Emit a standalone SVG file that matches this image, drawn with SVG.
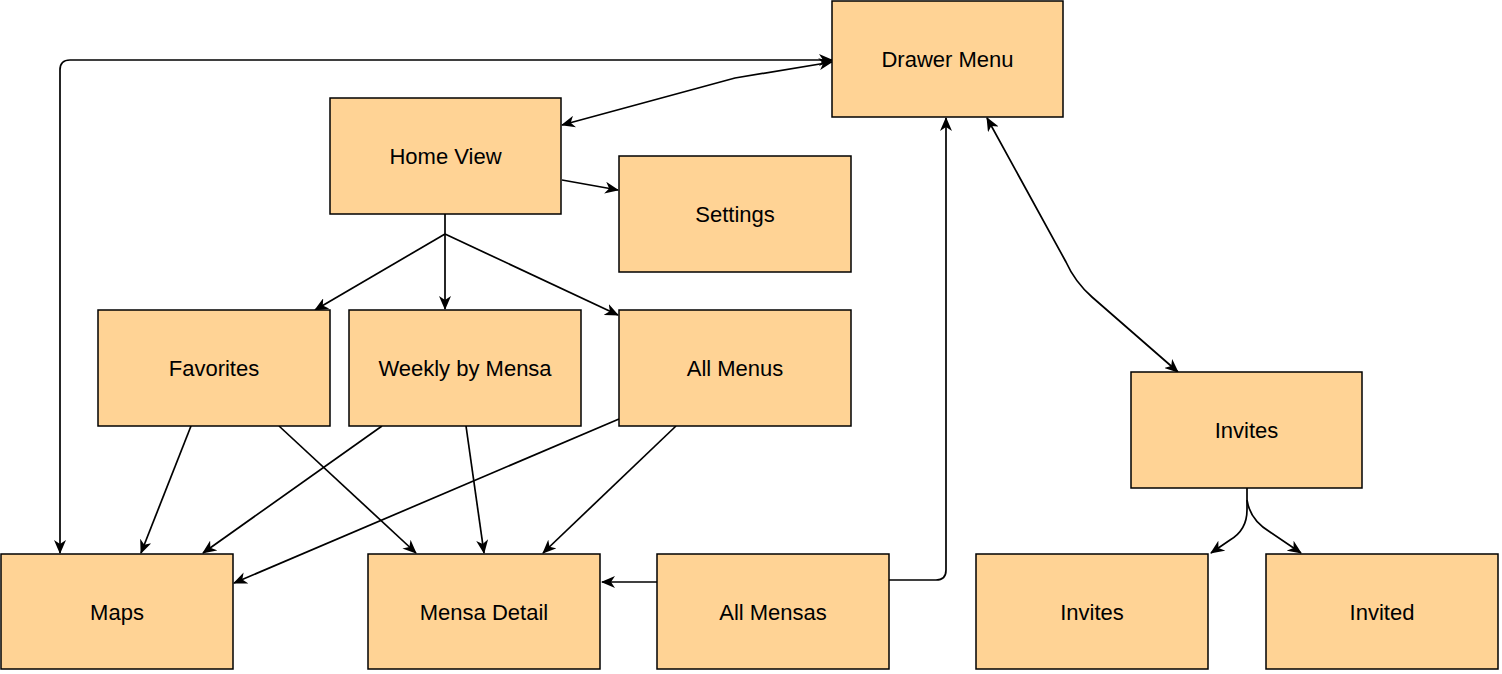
<svg xmlns="http://www.w3.org/2000/svg" width="1502" height="674" viewBox="0 0 1502 674">
<defs>
<marker id="ar" viewBox="0 0 14 12" refX="13" refY="6" markerWidth="14" markerHeight="12" markerUnits="userSpaceOnUse" orient="auto-start-reverse">
<path d="M0,0 L14,6 L0,12 L4,6 Z" fill="#000"/>
</marker>
<style>
.n rect{fill:#FFD395;stroke:#000;stroke-width:1.5}
.n text{font-family:"Liberation Sans",Arial,sans-serif;font-size:22px;fill:#000;text-anchor:middle;dominant-baseline:central}
#edges path{fill:none;stroke:#000;stroke-width:1.7}
.e{marker-end:url(#ar)}
.b{marker-start:url(#ar);marker-end:url(#ar)}
</style>
</defs>
<rect width="1502" height="674" fill="#fff"/>
<g id="edges">
<path class="b" d="M832,60 L70,60 Q60,60 60,70 L60,553"/>
<path class="b" d="M832,62 L735,78 L562,125"/>
<path class="e" d="M562,180 L618,190"/>
<path d="M445,214 L445,234"/>
<path class="e" d="M445,234 L315,310"/>
<path class="e" d="M445,234 L445,309"/>
<path class="e" d="M445,234 L618,315"/>
<path class="e" d="M191,426 L141,553"/>
<path class="e" d="M279,426 L416,553"/>
<path class="e" d="M382,426 L203,553"/>
<path class="e" d="M466,426 L484,553"/>
<path class="e" d="M619,419 L234,583"/>
<path class="e" d="M676,426 L543,553"/>
<path class="e" d="M657,582 L602,582"/>
<path class="e" d="M889,580 L936,580 Q946,580 946,570 L946,118"/>
<path class="b" d="M987,118 L1066,262 Q1075,282 1092,297 L1178,372"/>
<path class="e" d="M1247,488 L1247,510 Q1247,530 1230,540 L1211,553"/>
<path class="e" d="M1247,500 Q1250,520 1270,532 L1301,553"/>
</g>
<g id="drawer" class="n"><rect x="832" y="1" width="231" height="116"/><text x="947.5" y="59">Drawer Menu</text></g>
<g id="home" class="n"><rect x="330" y="98" width="231" height="116"/><text x="445.5" y="156">Home View</text></g>
<g id="settings" class="n"><rect x="619" y="156" width="232" height="116"/><text x="735" y="214">Settings</text></g>
<g id="favorites" class="n"><rect x="98" y="310" width="232" height="116"/><text x="214" y="368">Favorites</text></g>
<g id="weekly" class="n"><rect x="349" y="310" width="232" height="116"/><text x="465" y="368">Weekly by Mensa</text></g>
<g id="allmenus" class="n"><rect x="619" y="310" width="232" height="116"/><text x="735" y="368">All Menus</text></g>
<g id="invites" class="n"><rect x="1131" y="372" width="231" height="116"/><text x="1246.5" y="430">Invites</text></g>
<g id="maps" class="n"><rect x="1" y="554" width="232" height="115"/><text x="117" y="612">Maps</text></g>
<g id="mensadetail" class="n"><rect x="368" y="554" width="232" height="115"/><text x="484" y="612">Mensa Detail</text></g>
<g id="allmensas" class="n"><rect x="657" y="554" width="232" height="115"/><text x="773" y="612">All Mensas</text></g>
<g id="invites2" class="n"><rect x="976" y="554" width="232" height="115"/><text x="1092" y="612">Invites</text></g>
<g id="invited" class="n"><rect x="1266" y="554" width="232" height="115"/><text x="1382" y="612">Invited</text></g>
</svg>
